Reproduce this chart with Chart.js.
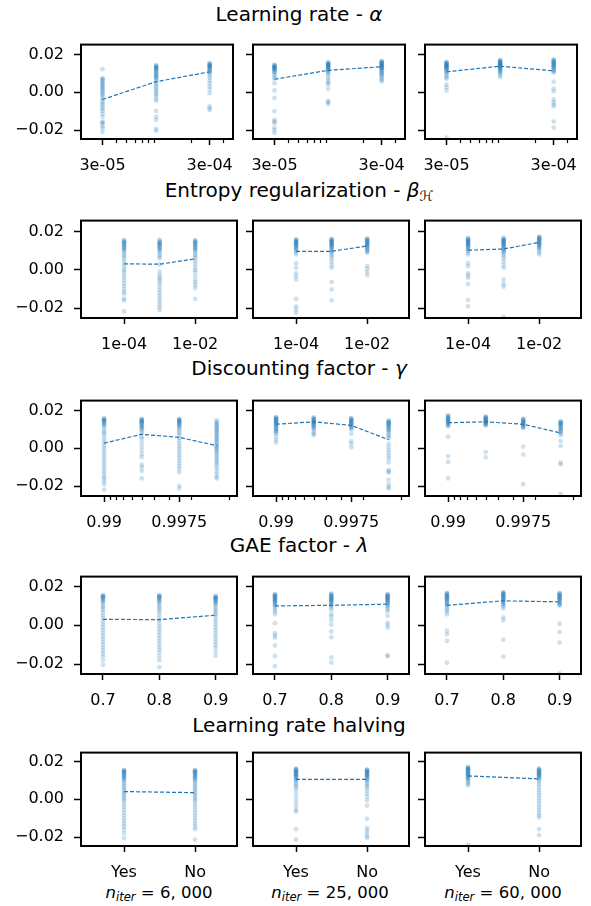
<!DOCTYPE html>
<html>
<head>
<meta charset="utf-8">
<script src="https://cdn.jsdelivr.net/npm/chart.js@4.4.0/dist/chart.umd.min.js"></script>
<style>
  html, body { margin: 0; padding: 0; background: #fff; }
  body { width: 591px; height: 906px; position: relative; overflow: hidden; font-family: 'DejaVu Sans', sans-serif; color: #000; }
  .title { position: absolute; left: 0; width: 598px; text-align: center; font-size: 20px; line-height: 20px; white-space: nowrap; }
  .xlabel { position: absolute; width: 200px; text-align: center; font-size: 16.5px; line-height: 16px; white-space: nowrap; }
  .xlabel sub, .title sub { font-size: 0.7em; vertical-align: -0.3em; line-height: 0; }
  canvas { position: absolute; }
</style>
</head>
<body>
<div class="title" style="top:4px">Learning rate - <i>α</i></div>
<div class="title" style="top:180px">Entropy regularization - <i>β</i><sub>ℋ</sub></div>
<div class="title" style="top:358px">Discounting factor - <i>γ</i></div>
<div class="title" style="top:535px">GAE factor - <i>λ</i></div>
<div class="title" style="top:715px">Learning rate halving</div>
<div class="xlabel" style="left:59px;top:885px"><i>n<sub>iter</sub></i> = 6, 000</div>
<div class="xlabel" style="left:230px;top:885px"><i>n<sub>iter</sub></i> = 25, 000</div>
<div class="xlabel" style="left:403px;top:885px"><i>n<sub>iter</sub></i> = 60, 000</div>

<script>
// ---- data: y = score per run, grouped by hyper-parameter level ----

// Learning rate - alpha
const lrLevels = [3e-5, 9.5e-5, 3e-4];
const lrTicks = [3e-5, 3e-4];
const lrTickLabels = ['3e-05', '3e-04'];
const lrMinor = [4e-5, 5e-5, 6e-5, 7e-5, 8e-5, 9e-5, 2e-4, 4e-4];
const lrPts6k = [
  [0.0122, 0.0075, 0.007, 0.0065, 0.006, 0.005, 0.0045, 0.004, 0.003, 0.0025, 0.002, 0.001, 0.0005, -0.0005, -0.001, -0.002, -0.003, -0.004, -0.005, -0.006, -0.007, -0.008, -0.009, -0.010, -0.0115, -0.013, -0.0155, -0.016, -0.0165, -0.018, -0.019, -0.021],
  [0.0143, 0.014, 0.0137, 0.0133, 0.013, 0.0127, 0.0123, 0.012, 0.0115, 0.011, 0.0105, 0.01, 0.0095, 0.009, 0.0085, 0.008, 0.0075, 0.007, 0.006, 0.005, 0.004, 0.003, 0.002, 0.001, 0.0, -0.001, -0.002, -0.0035, -0.0045, -0.0099, -0.013, -0.0146, -0.0193, -0.0204],
  [0.0155, 0.015, 0.0148, 0.0145, 0.0142, 0.014, 0.0137, 0.0135, 0.013, 0.0127, 0.0123, 0.012, 0.0115, 0.011, 0.0105, 0.01, 0.0088, 0.0075, 0.006, 0.0045, 0.003, 0.0015, -0.0005, -0.0075, -0.0085, -0.0094]
];
const lrPts25k = [
  [0.0146, 0.0143, 0.014, 0.0137, 0.0135, 0.0132, 0.013, 0.0127, 0.0125, 0.0122, 0.012, 0.0115, 0.011, 0.0105, 0.01, 0.009, 0.0078, 0.0072, 0.0048, 0.001, -0.003, -0.01, -0.0146, -0.0155, -0.0163, -0.0187, -0.02, -0.0215],
  [0.0158, 0.0155, 0.0152, 0.015, 0.0148, 0.0145, 0.0142, 0.014, 0.0137, 0.0135, 0.0132, 0.013, 0.0127, 0.0124, 0.012, 0.0115, 0.011, 0.0105, 0.0098, 0.0085, 0.0072, 0.006, 0.005, 0.0041, 0.0017, -0.0046, -0.0053, -0.0061],
  [0.0166, 0.0162, 0.016, 0.0157, 0.0155, 0.0152, 0.015, 0.0148, 0.0145, 0.0142, 0.014, 0.0137, 0.0135, 0.0132, 0.013, 0.0127, 0.0125, 0.012, 0.0115, 0.011, 0.0105, 0.01, 0.0095, 0.009, 0.0082, 0.0074, 0.0065, 0.0058]
];
const lrPts60k = [
  [0.0161, 0.0158, 0.0155, 0.0152, 0.015, 0.0147, 0.0145, 0.0142, 0.014, 0.0137, 0.0135, 0.0132, 0.013, 0.0127, 0.0124, 0.012, 0.0115, 0.011, 0.0104, 0.0095, 0.0088, 0.0078, 0.0071, 0.0041, 0.0027, 0.001, -0.024],
  [0.0171, 0.0168, 0.0165, 0.0162, 0.016, 0.0157, 0.0155, 0.0152, 0.015, 0.0148, 0.0145, 0.0143, 0.014, 0.0138, 0.0135, 0.0132, 0.013, 0.0127, 0.0124, 0.012, 0.0115, 0.011, 0.0105, 0.01, 0.009, 0.008],
  [0.0174, 0.017, 0.0167, 0.0164, 0.016, 0.0157, 0.0154, 0.015, 0.0147, 0.0144, 0.014, 0.0137, 0.0134, 0.013, 0.0125, 0.012, 0.0115, 0.011, 0.0104, 0.0056, 0.0019, 0.0005, -0.0038, -0.0052, -0.0065, -0.0075, -0.0155, -0.0187]
];
const lrMean6k = [-0.0038, 0.0056, 0.0108];
const lrMean25k = [0.0069, 0.0116, 0.0135];
const lrMean60k = [0.0108, 0.0138, 0.0113];

// Entropy regularization - beta_H
const entLevels = [1e-4, 1e-3, 1e-2];
const entTicks = [1e-4, 1e-2];
const entTickLabels = ['1e-04', '1e-02'];
const entPts6k = [
  [0.0155, 0.015, 0.0147, 0.0143, 0.014, 0.0135, 0.013, 0.0125, 0.012, 0.0115, 0.011, 0.0105, 0.01, 0.009, 0.008, 0.007, 0.006, 0.0045, 0.003, 0.0015, 0.0, -0.001, -0.0025, -0.004, -0.0055, -0.007, -0.0085, -0.01, -0.0115, -0.0125, -0.015, -0.016, -0.0217],
  [0.0155, 0.015, 0.0145, 0.014, 0.0137, 0.0133, 0.013, 0.0125, 0.012, 0.0115, 0.011, 0.0105, 0.01, 0.009, 0.008, 0.007, 0.006, 0.0028, -0.001, -0.0028, -0.004, -0.005, -0.006, -0.0075, -0.009, -0.0105, -0.012, -0.0135, -0.015, -0.0165, -0.018, -0.0195, -0.021],
  [0.0155, 0.015, 0.0147, 0.0143, 0.014, 0.0135, 0.013, 0.0125, 0.012, 0.0115, 0.011, 0.0105, 0.01, 0.009, 0.008, 0.007, 0.006, 0.0045, 0.003, 0.0015, 0.0, -0.001, -0.003, -0.005, -0.0065, -0.008, -0.0095, -0.0152]
];
const entPts25k = [
  [0.0158, 0.0155, 0.0152, 0.015, 0.0147, 0.0144, 0.014, 0.0137, 0.0134, 0.013, 0.0127, 0.0124, 0.012, 0.0115, 0.011, 0.0105, 0.01, 0.009, 0.008, 0.0034, 0.0011, -0.0019, -0.0035, -0.0051, -0.0152, -0.019, -0.0205, -0.0222],
  [0.0161, 0.0158, 0.0155, 0.0152, 0.015, 0.0147, 0.0144, 0.014, 0.0137, 0.0134, 0.013, 0.0127, 0.0124, 0.012, 0.0115, 0.011, 0.0105, 0.01, 0.0095, 0.009, 0.008, 0.007, 0.0058, 0.0042, 0.0025, 0.0011, -0.0064, -0.0102, -0.016],
  [0.0163, 0.016, 0.0157, 0.0154, 0.015, 0.0147, 0.0144, 0.014, 0.0137, 0.0134, 0.013, 0.0127, 0.0124, 0.012, 0.0115, 0.011, 0.0105, 0.01, 0.0095, 0.0088, 0.0019, 0.0005, -0.0012, -0.0028]
];
const entPts60k = [
  [0.0166, 0.0162, 0.0158, 0.0155, 0.0152, 0.015, 0.0147, 0.0144, 0.014, 0.0137, 0.0134, 0.013, 0.0127, 0.0124, 0.012, 0.0115, 0.011, 0.0105, 0.01, 0.009, 0.008, 0.0034, 0.0019, -0.0019, -0.003, -0.0042, -0.0074, -0.0158, -0.019],
  [0.0166, 0.0162, 0.0158, 0.0155, 0.0152, 0.015, 0.0147, 0.0144, 0.014, 0.0137, 0.0134, 0.013, 0.0127, 0.0124, 0.012, 0.0115, 0.011, 0.0105, 0.01, 0.0095, 0.009, 0.008, 0.007, 0.0058, 0.0042, 0.0025, 0.0011, -0.0051, -0.0074, -0.0088, -0.0245],
  [0.0173, 0.017, 0.0167, 0.0164, 0.016, 0.0157, 0.0154, 0.015, 0.0147, 0.0144, 0.014, 0.0137, 0.0134, 0.013, 0.0125, 0.012, 0.0115, 0.011, 0.01, 0.009, 0.008]
];
const entMean6k = [0.0031, 0.0029, 0.0057];
const entMean25k = [0.0096, 0.0096, 0.0124];
const entMean60k = [0.0102, 0.0108, 0.0143];

// Discounting factor - gamma
const gammaLevels = [0.99, 0.995, 0.9975, 0.99875];
const gammaTicks = [0.99, 0.9975];
const gammaTickLabels = ['0.99', '0.9975'];
const gammaMinor = [0.991, 0.992, 0.993, 0.994, 0.995, 0.996, 0.997, 0.998, 0.999];
const gammaPts6k = [
  [0.0158, 0.0155, 0.0152, 0.015, 0.0147, 0.0144, 0.014, 0.0135, 0.013, 0.0125, 0.012, 0.011, 0.0095, 0.0085, 0.0075, 0.006, 0.0045, 0.003, 0.0015, 0.0, -0.0015, -0.003, -0.0045, -0.006, -0.0075, -0.009, -0.0105, -0.012, -0.0135, -0.015, -0.016, -0.0175, -0.019, -0.0218],
  [0.0155, 0.0152, 0.015, 0.0147, 0.0144, 0.014, 0.0137, 0.0134, 0.013, 0.0125, 0.012, 0.0115, 0.011, 0.0105, 0.01, 0.009, 0.008, 0.006, 0.005, 0.003, 0.001, -0.001, -0.003, -0.0047, -0.0088, -0.01, -0.0119, -0.0159],
  [0.0155, 0.0152, 0.015, 0.0147, 0.0144, 0.014, 0.0137, 0.0134, 0.013, 0.0125, 0.012, 0.0115, 0.011, 0.01, 0.009, 0.008, 0.007, 0.0055, 0.004, 0.0025, 0.001, -0.0005, -0.002, -0.0035, -0.005, -0.0065, -0.008, -0.0095, -0.011, -0.0127, -0.0198, -0.0213],
  [0.0147, 0.014, 0.0133, 0.0125, 0.012, 0.0112, 0.0105, 0.01, 0.0092, 0.0085, 0.0078, 0.007, 0.0062, 0.0055, 0.0048, 0.004, 0.0032, 0.0025, 0.0017, 0.001, 0.0002, -0.0005, -0.0013, -0.002, -0.003, -0.004, -0.005, -0.006, -0.007, -0.008, -0.009, -0.0105, -0.012, -0.0135, -0.015, -0.0159]
];
const gammaPts25k = [
  [0.0165, 0.0162, 0.016, 0.0157, 0.0154, 0.015, 0.0147, 0.0144, 0.014, 0.0137, 0.0134, 0.013, 0.0127, 0.0124, 0.012, 0.0115, 0.011, 0.0105, 0.01, 0.0095, 0.009, 0.0085, 0.0077, 0.0061, 0.0045, 0.003],
  [0.0163, 0.016, 0.0157, 0.0154, 0.015, 0.0147, 0.0144, 0.014, 0.0137, 0.0134, 0.013, 0.0127, 0.0124, 0.012, 0.0115, 0.011, 0.0105, 0.01, 0.0085, 0.0077, 0.0069],
  [0.016, 0.0157, 0.0154, 0.015, 0.0147, 0.0144, 0.014, 0.0137, 0.0134, 0.013, 0.0127, 0.0124, 0.012, 0.0115, 0.011, 0.0105, 0.01, 0.0077, 0.0038, 0.0025, 0.0006],
  [0.0147, 0.0144, 0.014, 0.0137, 0.0134, 0.013, 0.0127, 0.0124, 0.012, 0.0115, 0.011, 0.0105, 0.01, 0.0095, 0.009, 0.008, 0.007, 0.0063, 0.0053, 0.0023, 0.0005, -0.001, -0.0025, -0.004, -0.0055, -0.0075, -0.0115, -0.0122, -0.0128, -0.0165, -0.019, -0.0205, -0.0212]
];
const gammaPts60k = [
  [0.0174, 0.017, 0.0167, 0.0164, 0.016, 0.0157, 0.0154, 0.015, 0.0147, 0.0144, 0.014, 0.0137, 0.0134, 0.013, 0.0125, 0.012, 0.0116, 0.0061, -0.0041, -0.0072, -0.0159],
  [0.0168, 0.0165, 0.0162, 0.016, 0.0157, 0.0154, 0.0151, 0.0148, 0.0145, 0.0142, 0.014, 0.0137, 0.0134, 0.013, 0.0127, 0.0124, 0.0121, -0.002, -0.0048],
  [0.0157, 0.0154, 0.015, 0.0147, 0.0144, 0.014, 0.0137, 0.0134, 0.013, 0.0127, 0.0124, 0.012, 0.0115, 0.011, 0.0108, 0.0009, -0.0033, -0.019],
  [0.0143, 0.014, 0.0137, 0.0134, 0.013, 0.0127, 0.0124, 0.012, 0.0115, 0.011, 0.0105, 0.01, 0.0095, 0.009, 0.0085, 0.0078, 0.0069, 0.0038, 0.0011, -0.0075, -0.0085, -0.0241]
];
const gammaMean6k = [0.0027, 0.0074, 0.0058, 0.0014];
const gammaMean25k = [0.0127, 0.014, 0.0121, 0.0045];
const gammaMean60k = [0.0135, 0.014, 0.0127, 0.0081];

// GAE factor - lambda
const gaeLevels = [0.7, 0.8, 0.9];
const gaeTickLabels = ['0.7', '0.8', '0.9'];
const gaePts6k = [
  [0.0155, 0.0152, 0.015, 0.0147, 0.0144, 0.014, 0.0135, 0.013, 0.0125, 0.012, 0.011, 0.01, 0.009, 0.008, 0.0065, 0.005, 0.0035, 0.002, 0.0005, -0.001, -0.0025, -0.004, -0.0055, -0.007, -0.0085, -0.01, -0.0115, -0.013, -0.0145, -0.016, -0.018, -0.0204],
  [0.0155, 0.0152, 0.015, 0.0147, 0.0144, 0.014, 0.0135, 0.013, 0.0125, 0.012, 0.011, 0.01, 0.009, 0.008, 0.007, 0.0055, 0.004, 0.0025, 0.001, -0.0005, -0.002, -0.0035, -0.005, -0.0065, -0.008, -0.0095, -0.011, -0.0125, -0.014, -0.016, -0.018, -0.0216],
  [0.0151, 0.0148, 0.0145, 0.0142, 0.014, 0.0137, 0.0133, 0.013, 0.0125, 0.012, 0.0115, 0.011, 0.01, 0.009, 0.008, 0.007, 0.006, 0.005, 0.0035, 0.002, 0.0005, -0.001, -0.0025, -0.004, -0.0055, -0.007, -0.0085, -0.01, -0.0115, -0.0135, -0.0158]
];
const gaePts25k = [
  [0.0161, 0.0158, 0.0155, 0.0152, 0.015, 0.0147, 0.0144, 0.014, 0.0137, 0.0134, 0.013, 0.0127, 0.0124, 0.012, 0.0115, 0.011, 0.0105, 0.01, 0.009, 0.008, 0.007, 0.0057, 0.0011, -0.0041, -0.0052, -0.0064, -0.0104, -0.0158, -0.0211],
  [0.0164, 0.016, 0.0157, 0.0154, 0.015, 0.0147, 0.0144, 0.014, 0.0137, 0.0134, 0.013, 0.0127, 0.0124, 0.012, 0.0115, 0.011, 0.0105, 0.01, 0.009, 0.008, 0.0057, 0.0045, 0.0026, 0.0003, -0.0032, -0.0061, -0.0166, -0.0192],
  [0.0161, 0.0158, 0.0155, 0.0152, 0.015, 0.0147, 0.0144, 0.014, 0.0137, 0.0134, 0.013, 0.0127, 0.0124, 0.012, 0.0115, 0.011, 0.0105, 0.01, 0.009, 0.0082, 0.0072, 0.0049, 0.0014, 0.0001, -0.0012, -0.0155, -0.016]
];
const gaePts60k = [
  [0.0167, 0.0164, 0.016, 0.0157, 0.0154, 0.015, 0.0147, 0.0144, 0.014, 0.0137, 0.0134, 0.013, 0.0125, 0.012, 0.0115, 0.011, 0.0105, 0.01, 0.009, 0.008, 0.007, 0.0057, -0.0028, -0.0045, -0.0081, -0.0193],
  [0.0171, 0.0168, 0.0165, 0.0162, 0.016, 0.0157, 0.0154, 0.015, 0.0147, 0.0144, 0.014, 0.0137, 0.0134, 0.013, 0.0125, 0.012, 0.0115, 0.011, 0.0105, 0.0098, 0.0087, 0.0041, 0.0026, -0.0074, -0.0161],
  [0.0167, 0.0164, 0.016, 0.0157, 0.0154, 0.015, 0.0147, 0.0144, 0.014, 0.0137, 0.0134, 0.013, 0.0125, 0.012, 0.0115, 0.011, 0.0105, 0.0101, 0.0008, -0.0035, -0.0089, -0.0248]
];
const gaeMean6k = [0.0031, 0.0029, 0.0052];
const gaeMean25k = [0.01, 0.0103, 0.0109];
const gaeMean60k = [0.0103, 0.0126, 0.0121];

// Learning rate halving
const halvLevels = ['Yes', 'No'];
const halvPts6k = [
  [0.0155, 0.0152, 0.015, 0.0147, 0.0144, 0.014, 0.0136, 0.0132, 0.0128, 0.0124, 0.012, 0.0115, 0.011, 0.0105, 0.01, 0.009, 0.008, 0.007, 0.006, 0.005, 0.004, 0.003, 0.002, 0.001, 0.0, -0.001, -0.0025, -0.004, -0.0055, -0.007, -0.0085, -0.01, -0.0115, -0.013, -0.0145, -0.016, -0.018, -0.0205],
  [0.0155, 0.0152, 0.015, 0.0147, 0.0144, 0.014, 0.0136, 0.0132, 0.0128, 0.0124, 0.012, 0.0115, 0.011, 0.0105, 0.01, 0.009, 0.008, 0.007, 0.006, 0.005, 0.004, 0.003, 0.002, 0.001, 0.0, -0.001, -0.0025, -0.004, -0.0055, -0.007, -0.0085, -0.01, -0.0115, -0.013, -0.0145, -0.0158, -0.0213]
];
const halvPts25k = [
  [0.0163, 0.016, 0.0157, 0.0154, 0.015, 0.0147, 0.0144, 0.014, 0.0137, 0.0134, 0.013, 0.0127, 0.0124, 0.012, 0.0115, 0.011, 0.0105, 0.01, 0.009, 0.008, 0.007, 0.0061, 0.0046, 0.0025, 0.0005, -0.0015, -0.0035, -0.0055, -0.0064, -0.0158, -0.0213],
  [0.0158, 0.0155, 0.0152, 0.015, 0.0147, 0.0144, 0.014, 0.0137, 0.0134, 0.013, 0.0127, 0.0124, 0.012, 0.0115, 0.011, 0.0105, 0.01, 0.009, 0.008, 0.007, 0.0061, 0.0046, 0.003, 0.0015, -0.0005, -0.0033, -0.0104, -0.0151, -0.0165, -0.018, -0.0195, -0.0205]
];
const halvPts60k = [
  [0.0171, 0.0168, 0.0165, 0.0162, 0.016, 0.0157, 0.0154, 0.015, 0.0147, 0.0144, 0.014, 0.0137, 0.0134, 0.013, 0.0127, 0.0124, 0.012, 0.0115, 0.011, 0.0105, 0.01, 0.009, 0.0082, 0.0074, -0.0241],
  [0.0163, 0.016, 0.0157, 0.0154, 0.015, 0.0147, 0.0144, 0.014, 0.0137, 0.0134, 0.013, 0.0127, 0.0124, 0.012, 0.0115, 0.011, 0.0105, 0.0093, 0.008, 0.0065, 0.005, 0.0035, 0.002, 0.0005, -0.001, -0.0025, -0.004, -0.0055, -0.007, -0.0085, -0.0096, -0.0158, -0.019]
];
const halvMean6k = [0.0041, 0.0035];
const halvMean25k = [0.0105, 0.0105];
const halvMean60k = [0.0124, 0.0108];

const yTicks = [-0.02, 0, 0.02];
const yTickLabels = ['\u22120.02', '0.00', '0.02'];

// ---- layout ----
const COL_LEFT = [81, 253, 425];
const PLOT_W = 156;
const ROW_TOP = [33, 209, 389, 565, 741];
const ROW_H = [106, 109, 107, 109, 105];
const Y_RANGE = [[-0.0247, 0.0252], [-0.0251, 0.0256], [-0.0252, 0.0252], [-0.0251, 0.0251], [-0.0247, 0.0247]];
const PAD_L = 80, PAD_T = 8, PAD_R = 8, PAD_B = 40;

const BLUE = '#1f77b4';
const DOT = 'rgba(31, 119, 180, 0.22)';
const FONT = { family: "'DejaVu Sans', sans-serif", size: 16 };

const logit = p => Math.log(p / (1 - p));

// per row: how x levels map onto the chart's x scale
const rows = [
    { type: 'logarithmic', xs: lrLevels, min: 1.89e-5, max: 4.95e-4,
      ticks: lrTicks, labels: lrTickLabels, minor: lrMinor,
      pts: [lrPts6k, lrPts25k, lrPts60k], means: [lrMean6k, lrMean25k, lrMean60k] },
    { type: 'logarithmic', xs: entLevels, min: 6.14e-6, max: 0.15,
      ticks: entTicks, labels: entTickLabels, minor: [],
      pts: [entPts6k, entPts25k, entPts60k], means: [entMean6k, entMean25k, entMean60k] },
    { type: 'linear', xs: gammaLevels.map(logit), min: 4.167, max: 7.06,
      ticks: gammaTicks.map(logit), labels: gammaTickLabels, minor: gammaMinor.map(logit),
      pts: [gammaPts6k, gammaPts25k, gammaPts60k], means: [gammaMean6k, gammaMean25k, gammaMean60k] },
    { type: 'linear', xs: gaeLevels, min: 0.661, max: 0.938,
      ticks: gaeLevels, labels: gaeTickLabels, minor: [],
      pts: [gaePts6k, gaePts25k, gaePts60k], means: [gaeMean6k, gaeMean25k, gaeMean60k] },
    { type: 'linear', xs: halvLevels.map((_, i) => i), min: -0.606, max: 1.591,
      ticks: halvLevels.map((_, i) => i), labels: halvLevels, minor: [],
      pts: [halvPts6k, halvPts25k, halvPts60k], means: [halvMean6k, halvMean25k, halvMean60k] }
];

// box around the plot + small minor tick marks
const framePlugin = {
    id: 'frame',
    afterDraw(chart, args, opts) {
        const { ctx, chartArea: a } = chart;
        const xs = chart.scales.x;
        ctx.save();
        ctx.strokeStyle = '#000';
        ctx.lineWidth = 1.2;
        ctx.beginPath();
        (opts.minor || []).forEach(v => {
            const px = Math.round(xs.getPixelForValue(v)) + 0.5;
            ctx.moveTo(px, a.bottom);
            ctx.lineTo(px, a.bottom + 4);
        });
        ctx.stroke();
        ctx.lineWidth = 2;
        ctx.strokeRect(a.left, a.top, a.right - a.left, a.bottom - a.top);
        ctx.restore();
    }
};

function createPanel(r, c) {
    const row = rows[r];
    const h = ROW_H[r];
    const canvas = document.createElement('canvas');
    const w = PAD_L + PLOT_W + PAD_R;
    const hh = PAD_T + h + PAD_B;
    canvas.width = w;
    canvas.height = hh;
    canvas.style.width = w + 'px';
    canvas.style.height = hh + 'px';
    canvas.style.left = (COL_LEFT[c] - PAD_L) + 'px';
    canvas.style.top = (ROW_TOP[r] - PAD_T) + 'px';
    document.body.appendChild(canvas);

    const points = [];
    row.pts[c].forEach((vals, k) => vals.forEach(v => points.push({ x: row.xs[k], y: v })));
    const means = row.means[c].map((v, k) => ({ x: row.xs[k], y: v }));

    new Chart(canvas.getContext('2d'), {
        type: 'scatter',
        data: {
            datasets: [
                {
                    data: means,
                    showLine: true,
                    borderColor: BLUE,
                    borderWidth: 1.2,
                    borderDash: [4, 2],
                    pointRadius: 0,
                    order: 0
                },
                {
                    data: points,
                    backgroundColor: DOT,
                    borderWidth: 0,
                    pointRadius: 2.4,
                    order: 1
                }
            ]
        },
        options: {
            responsive: false,
            animation: false,
            devicePixelRatio: 1,
            events: [],
            layout: { padding: { left: 0, top: PAD_T, right: PAD_R, bottom: 0 } },
            plugins: {
                legend: { display: false },
                tooltip: { enabled: false },
                frame: { minor: row.minor }
            },
            scales: {
                x: {
                    type: row.type,
                    min: row.min,
                    max: row.max,
                    bounds: 'data',
                    afterBuildTicks: s => { s.ticks = row.ticks.map(v => ({ value: v })); },
                    afterFit: s => { s.height = PAD_B; },
                    border: { display: false },
                    grid: { display: true, drawOnChartArea: false, drawTicks: true, tickLength: 6, tickWidth: 1.5, tickColor: '#000' },
                    ticks: {
                        autoSkip: false,
                        maxRotation: 0,
                        padding: 11,
                        color: '#000',
                        font: FONT,
                        callback: (v, i) => row.labels[i]
                    }
                },
                y: {
                    type: 'linear',
                    min: Y_RANGE[r][0],
                    max: Y_RANGE[r][1],
                    bounds: 'data',
                    afterBuildTicks: s => { s.ticks = yTicks.map(v => ({ value: v })); },
                    afterFit: s => { s.width = PAD_L; },
                    border: { display: false },
                    grid: { display: true, drawOnChartArea: false, drawTicks: true, tickLength: 7, tickWidth: 1.5, tickColor: '#000' },
                    ticks: {
                        padding: 10,
                        color: '#000',
                        font: FONT,
                        callback: (v, i) => (c === 0 ? yTickLabels[i] : '')
                    }
                }
            }
        },
        plugins: [framePlugin]
    });
}

for (let r = 0; r < rows.length; r++) {
    for (let c = 0; c < 3; c++) createPanel(r, c);
}
</script>
</body>
</html>
